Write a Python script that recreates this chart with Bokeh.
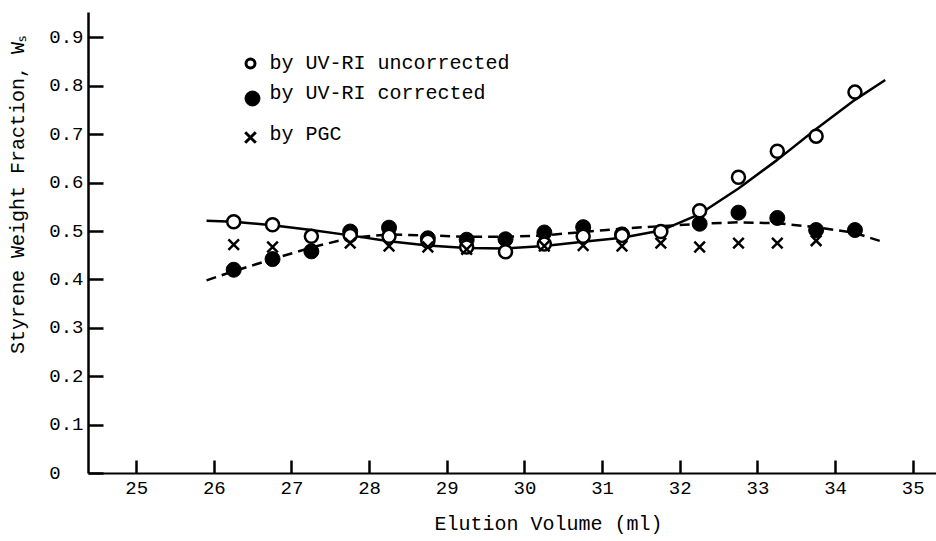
import math
from bokeh.plotting import figure
from bokeh.models import Range1d, FixedTicker
from bokeh.models import Label
from bokeh.embed import file_html
from bokeh.resources import INLINE

# ---- data ----
elution = [26.25, 26.75, 27.25, 27.75, 28.25, 28.75, 29.25, 29.75, 30.25,
           30.75, 31.25, 31.75, 32.25, 32.75, 33.25, 33.75, 34.25]
uncorrected = [0.520, 0.514, 0.490, 0.492, 0.490, 0.480, 0.468, 0.458, 0.474,
               0.490, 0.492, 0.500, 0.543, 0.612, 0.666, 0.697, 0.788]

corr_x = [26.25, 26.75, 27.25, 27.75, 28.25, 28.75, 29.25, 29.75, 30.25,
          30.75, 31.25, 32.25, 32.75, 33.25, 33.75, 34.25]
corrected = [0.421, 0.443, 0.459, 0.500, 0.508, 0.486, 0.483, 0.484, 0.498,
             0.509, 0.494, 0.516, 0.539, 0.528, 0.503, 0.503]

pgc_x = [26.25, 26.75, 27.75, 28.25, 28.75, 29.25, 30.25, 30.75, 31.25,
         31.75, 32.25, 32.75, 33.25, 33.75]
pgc = [0.473, 0.468, 0.476, 0.470, 0.468, 0.463, 0.470, 0.471, 0.470,
       0.476, 0.468, 0.476, 0.476, 0.481]

# hand-drawn curves
solid_x = [25.9, 26.25, 26.75, 27.25, 27.75, 28.25, 28.75, 29.25, 29.75, 30.25,
           30.75, 31.25, 31.75, 32.25, 32.75, 33.25, 33.75, 34.25, 34.64]
solid_y = [0.522, 0.520, 0.513, 0.503, 0.492, 0.480, 0.471, 0.466, 0.465, 0.470,
           0.479, 0.487, 0.502, 0.536, 0.589, 0.648, 0.712, 0.772, 0.813]
dash_x = [25.9, 26.25, 26.75, 27.25, 27.75, 28.25, 28.75, 29.25, 29.75, 30.25,
          30.75, 31.25, 31.75, 32.25, 32.75, 33.25, 33.75, 34.25, 34.62]
dash_y = [0.399, 0.418, 0.443, 0.467, 0.487, 0.494, 0.492, 0.489, 0.489, 0.492,
          0.499, 0.506, 0.511, 0.516, 0.519, 0.517, 0.509, 0.497, 0.478]

x_ticks = [25, 26, 27, 28, 29, 30, 31, 32, 33, 34, 35]
y_ticks = [0, 0.1, 0.2, 0.3, 0.4, 0.5, 0.6, 0.7, 0.8, 0.9]
y_tick_labels = ["0\u00a0\u00a0", "0.1", "0.2", "0.3", "0.4", "0.5", "0.6", "0.7", "0.8", "0.9"]

legend_labels = ["by UV-RI uncorrected", "by UV-RI corrected", "by PGC"]
x_title = "Elution Volume (ml)"
y_title = "Styrene Weight Fraction, W\u209b"

FONT = "Liberation Mono"
NBSP = "\u00a0"

# ---- layout ----
W, H = 936, 541
LEFT, TOP, BOTTOM = 88, 12, 473
x0, x1 = 24.38, 35.30
y0, y1 = 0.0, 0.9525

p = figure(width=W, height=H, output_backend="svg", toolbar_location=None,
           x_range=Range1d(x0, x1), y_range=Range1d(y0, y1),
           min_border_left=LEFT, min_border_right=0, min_border_top=TOP,
           min_border_bottom=H - BOTTOM)
p.outline_line_color = None
p.grid.visible = False
p.background_fill_color = "white"
p.border_fill_color = "white"

def px_to_x(px):
    return x0 + (px - LEFT) * (x1 - x0) / (W - LEFT)

def py_to_y(py):
    return y0 + (BOTTOM - py) * (y1 - y0) / (BOTTOM - TOP)

for ax in (p.xaxis[0], p.yaxis[0]):
    ax.axis_line_color = "black"
    ax.major_tick_line_color = "black"
    ax.major_tick_line_width = 2.5
    ax.minor_tick_line_color = None
    ax.major_tick_out = 0
    ax.major_label_text_font = FONT
    ax.major_label_text_font_size = "19px"
    ax.major_label_text_color = "black"
    ax.axis_label_text_font = FONT
    ax.axis_label_text_font_size = "20px"
    ax.axis_label_text_font_style = "normal"
    ax.axis_label_text_color = "black"

p.xaxis[0].axis_line_width = 2
p.yaxis[0].axis_line_width = 2.5
p.xaxis[0].ticker = FixedTicker(ticks=x_ticks)
p.yaxis[0].ticker = FixedTicker(ticks=y_ticks)
p.xaxis[0].major_tick_in = 13
p.yaxis[0].major_tick_in = 15
p.xaxis[0].major_label_standoff = 8
p.yaxis[0].major_label_standoff = 5
p.yaxis[0].major_label_overrides = {t: l for t, l in zip(y_ticks, y_tick_labels)}
p.xaxis[0].major_label_overrides = {t: str(t) for t in x_ticks}

# axis titles (leading no-break spaces shift them off-centre as in the original)
p.xaxis[0].axis_label = NBSP * 6 + x_title
p.xaxis[0].axis_label_standoff = 16
p.yaxis[0].axis_label = NBSP * 8 + y_title
p.yaxis[0].axis_label_standoff = 16

# curves
p.line(solid_x, solid_y, line_color="black", line_width=2.5)
p.line(dash_x, dash_y, line_color="black", line_width=2.5, line_dash="10 6")

# points
p.scatter(corr_x, corrected, marker="circle", size=15, fill_color="black", line_color="black")
p.scatter(elution, uncorrected, marker="circle", size=13, fill_color="white",
          line_color="black", line_width=2.5)
p.scatter(pgc_x, pgc, marker="x", size=15, line_color="black", line_width=2.5)

# legend (manual, to match the original placement)
leg_marker_px = 250
leg_text_px = 269
leg_rows_py = [63, 96, 136]
p.scatter([px_to_x(leg_marker_px)], [py_to_y(leg_rows_py[0])], marker="circle", size=9,
          fill_color="white", line_color="black", line_width=3)
p.scatter([px_to_x(leg_marker_px + 2)], [py_to_y(leg_rows_py[1] + 2)], marker="circle", size=15,
          fill_color="black", line_color="black")
p.scatter([px_to_x(leg_marker_px)], [py_to_y(leg_rows_py[2] + 1)], marker="x", size=15,
          line_color="black", line_width=3)
for lab, py in zip(legend_labels, [63, 93, 134]):
    p.add_layout(Label(x=px_to_x(leg_text_px), y=py_to_y(py), text=lab,
                       text_font=FONT, text_font_size="20px", text_color="black",
                       text_align="left", text_baseline="middle"))

open("out.html", "w").write(file_html(p, INLINE))
